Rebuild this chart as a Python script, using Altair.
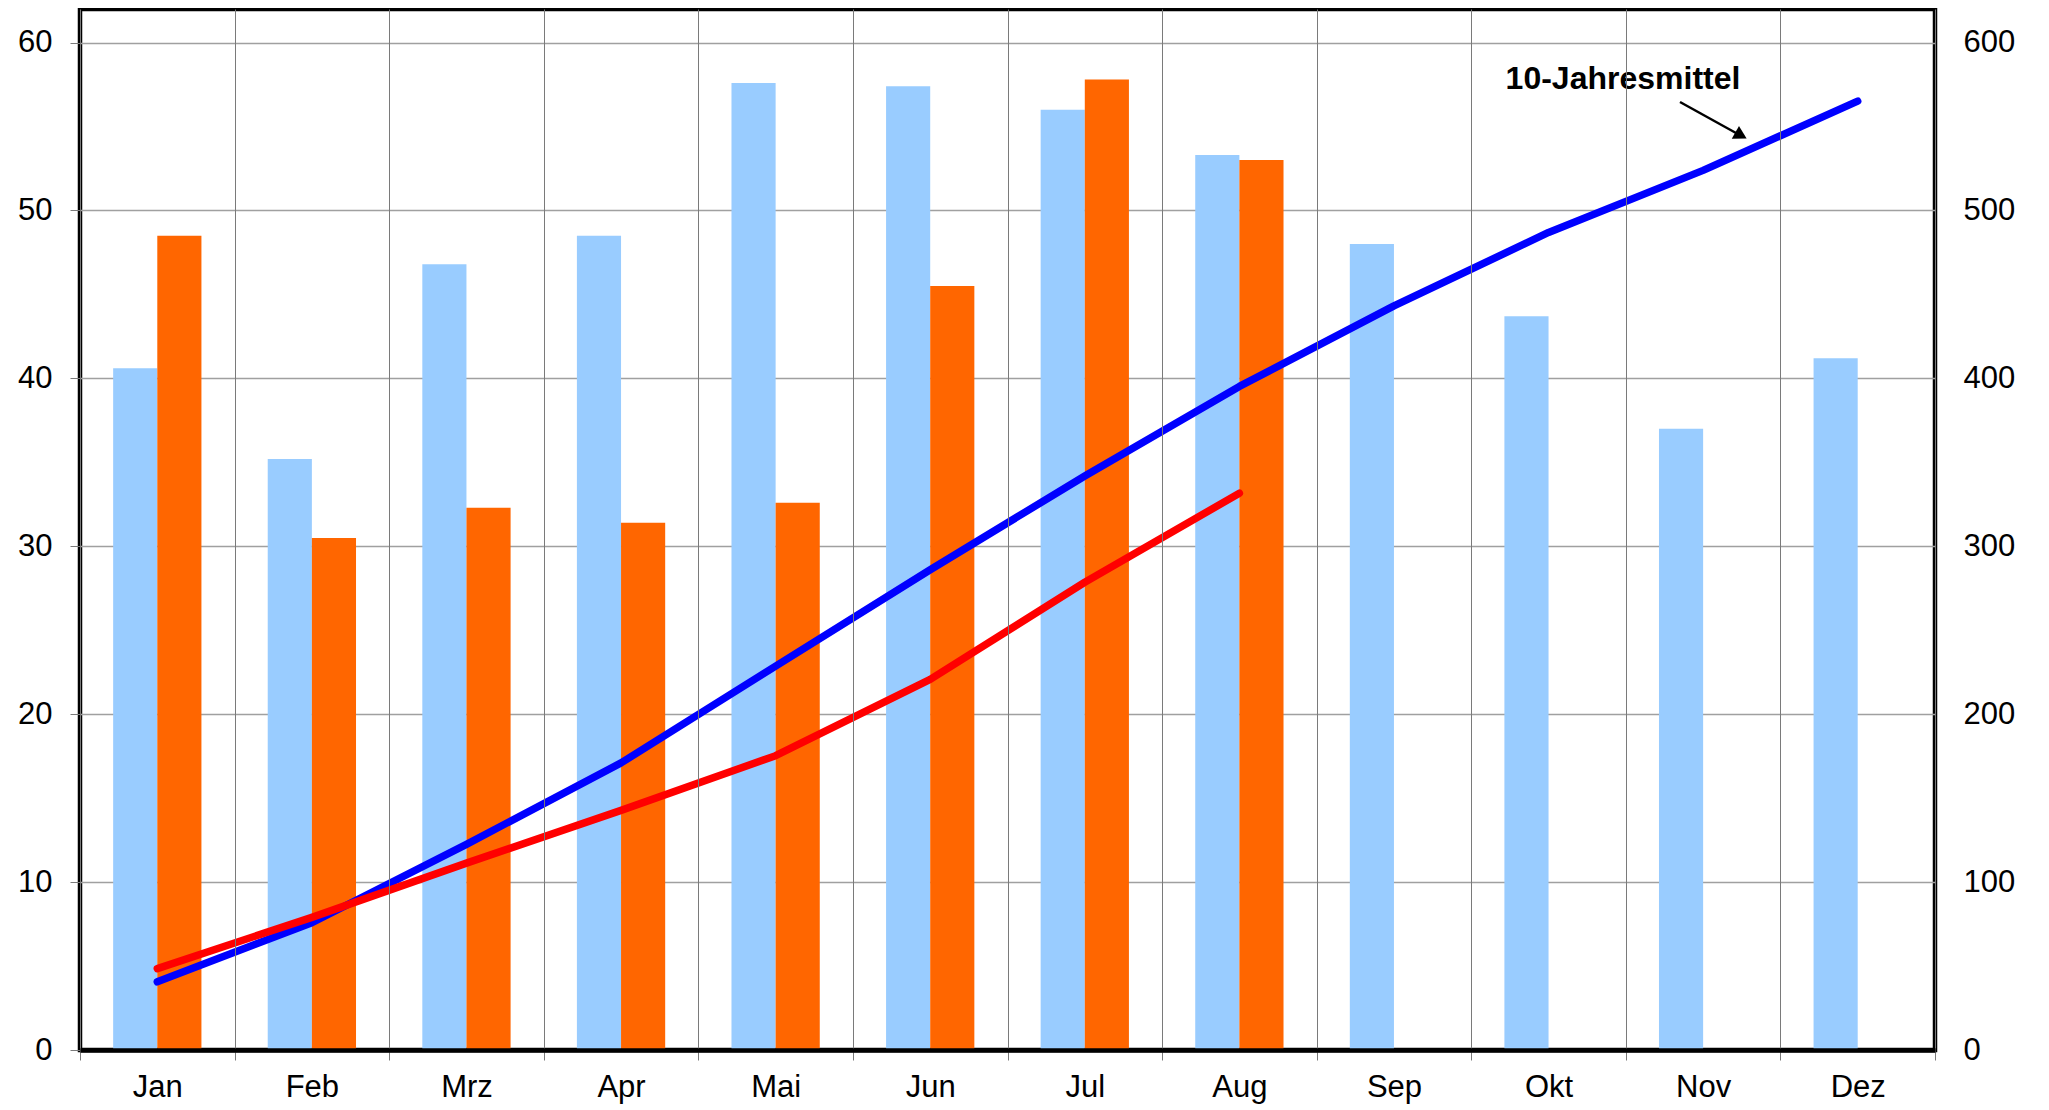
import altair as alt
import pandas as pd

months = ["Jan", "Feb", "Mrz", "Apr", "Mai", "Jun", "Jul", "Aug", "Sep", "Okt", "Nov", "Dez"]
series_names = ["Mittel", "Aktuell"]
mean_vals = [40.6, 35.2, 46.8, 48.5, 57.6, 57.4, 56.0, 53.3, 48.0, 43.7, 37.0, 41.2]
current_vals = [48.5, 30.5, 32.3, 31.4, 32.6, 45.5, 57.8, 53.0]
mean_cum = [40.6, 75.8, 122.5, 171.0, 228.6, 286.0, 341.9, 395.2, 443.2, 486.9, 523.9, 565.1]
current_cum = [48.5, 79.0, 111.3, 142.7, 175.3, 220.7, 278.6, 331.6]
left_ticks = [0, 10, 20, 30, 40, 50, 60]
right_ticks = [0, 100, 200, 300, 400, 500, 600]
annot_label = ["10-Jahresmittel"]

FONT = "Liberation Sans"
W, H = 1855, 1041
FS = 31

bars_df = pd.DataFrame(
    [{"month": m, "series": "Mittel", "value": v} for m, v in zip(months, mean_vals)]
    + [{"month": m, "series": "Aktuell", "value": v} for m, v in zip(months, current_vals)]
)
blue_df = pd.DataFrame({"month": months, "cum": mean_cum})
red_df = pd.DataFrame({"month": months[: len(current_cum)], "cum": current_cum})
annot_df = pd.DataFrame({"label": annot_label})

x_scale = alt.Scale(domain=months, paddingInner=0, paddingOuter=0)
x_axis = alt.Axis(
    title=None, tickBand="extent", grid=True, gridColor="#7a7a7a", gridWidth=1,
    ticks=True, tickSize=10, tickColor="#7a7a7a", labelPadding=12,
    labelFontSize=FS, labelFont=FONT, labelColor="black",
    domain=True, domainColor="black", domainWidth=4.5, zindex=1, labelAngle=0,
)

bars = alt.Chart(bars_df).mark_bar().encode(
    x=alt.X("month:N", sort=months, scale=x_scale, axis=x_axis),
    xOffset=alt.XOffset("series:N", sort=series_names,
                        scale=alt.Scale(domain=series_names, paddingInner=0, paddingOuter=0.751)),
    y=alt.Y("value:Q", scale=alt.Scale(domain=[0, 62], nice=False, zero=True),
            axis=alt.Axis(title=None, values=left_ticks, grid=True, gridColor="#a0a0a0",
                          gridWidth=1.3, ticks=True, tickSize=10, tickColor="#7a7a7a",
                          labelPadding=18, labelFontSize=FS, labelFont=FONT,
                          labelColor="black", domain=False, orient="left")),
    color=alt.Color("series:N", scale=alt.Scale(domain=series_names, range=["#99CCFF", "#FF6600"]),
                    legend=None),
)

y_right = alt.Y("cum:Q", scale=alt.Scale(domain=[0, 620], nice=False),
                axis=alt.Axis(title=None, values=right_ticks, grid=False, ticks=False,
                              labelPadding=28, labelFontSize=FS, labelFont=FONT,
                              labelColor="black", domain=False, orient="right"))

blue_line = alt.Chart(blue_df).mark_line(color="#0000FF", strokeWidth=7.5, strokeCap="round",
                                         strokeJoin="round").encode(
    x=alt.X("month:N", sort=months, scale=x_scale, axis=x_axis, bandPosition=0.5),
    y=y_right,
)
red_line = alt.Chart(red_df).mark_line(color="#FF0000", strokeWidth=7.5, strokeCap="round",
                                       strokeJoin="round").encode(
    x=alt.X("month:N", sort=months, scale=x_scale, axis=x_axis, bandPosition=0.5),
    y=y_right,
)
lines = alt.layer(blue_line, red_line)

annot_text = alt.Chart(annot_df).mark_text(
    font=FONT, fontSize=32, fontWeight="bold", color="black", align="center", baseline="alphabetic"
).encode(x=alt.value(1543), y=alt.value(80), text="label:N")

arrow_line = alt.Chart(annot_df).mark_rule(color="black", strokeWidth=2.5).encode(
    x=alt.value(1600), y=alt.value(93), x2=alt.value(1656), y2=alt.value(124)
)
arrow_head = alt.Chart(annot_df).mark_point(
    shape="triangle-up", filled=True, color="black", size=220, angle=119, opacity=1
).encode(x=alt.value(1661), y=alt.value(126.5))

chart = alt.layer(bars, lines, annot_text, arrow_line, arrow_head).resolve_scale(
    y="independent"
).properties(
    width=W, height=H,
    padding={"left": 72, "top": 1, "right": 100, "bottom": 60},
    autosize=alt.AutoSizeParams(type="none"),
    background="white",
).configure_view(
    stroke="black", strokeWidth=4.5
)

chart.save("out.html", embed_options={"renderer": "svg", "actions": False})
